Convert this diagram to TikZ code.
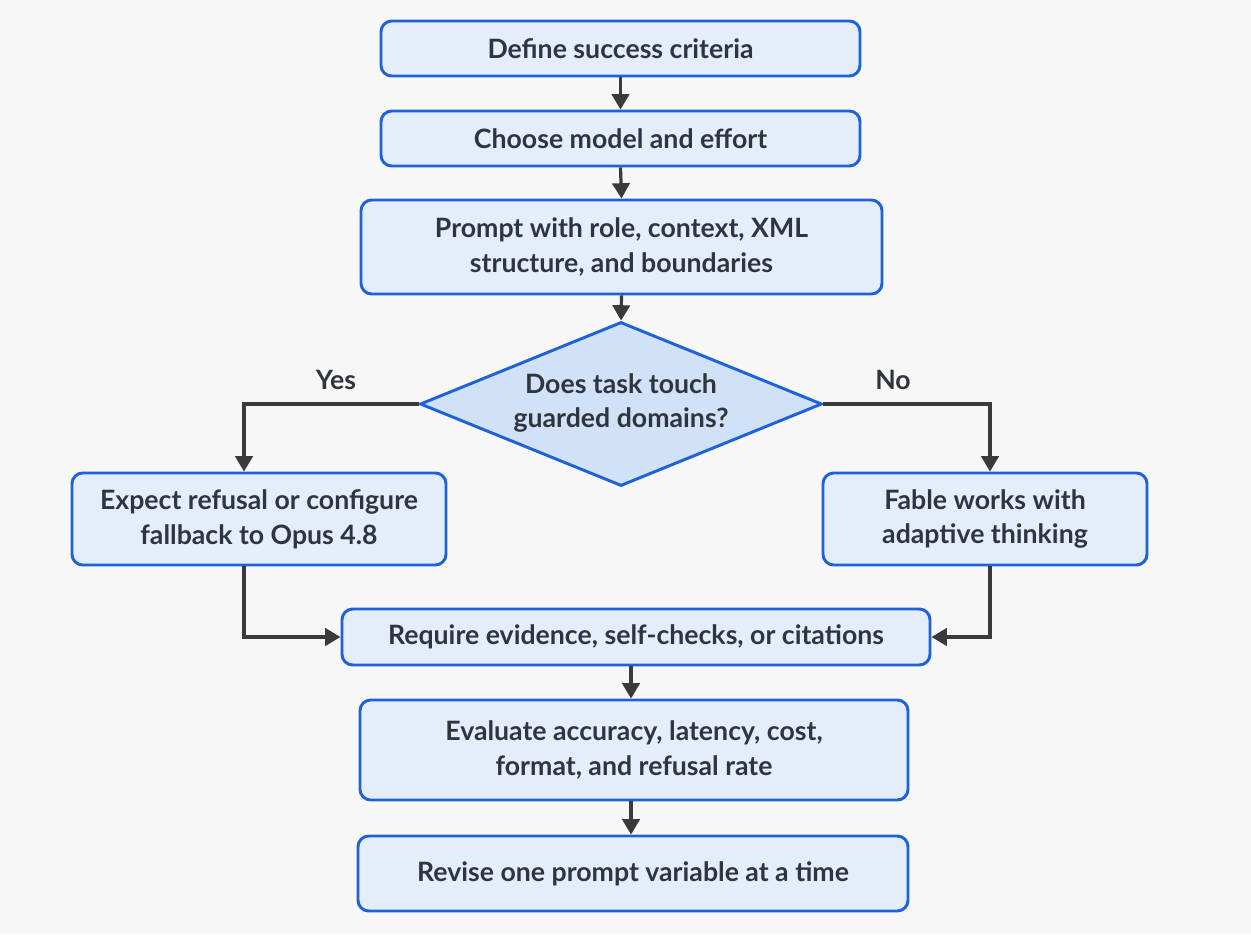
\documentclass[tikz,border=0pt]{standalone}
\usepackage{fontspec}
\setmainfont{Lato}
\usetikzlibrary{shapes.geometric,arrows.meta}
\definecolor{bg}{HTML}{F7F7F8}
\definecolor{boxfill}{HTML}{E4EEFB}
\definecolor{boxline}{HTML}{1F62D8}
\definecolor{txt}{HTML}{30353D}
\definecolor{arr}{HTML}{3A3A3A}
\definecolor{dfill}{HTML}{D0E1F8}
\tikzset{
  x=0.75pt, y=-0.75pt,
  tfont/.style={font=\fontsize{20}{26}\selectfont\bfseries, text=txt, align=center},
  proc/.style={draw=boxline, fill=boxfill, line width=2.2pt, rounded corners=8pt, inner sep=0pt, tfont},
  dec/.style={diamond, draw=boxline, fill=dfill, line width=2.2pt, inner sep=0pt},
  flow/.style={draw=arr, line width=2.4pt, -{Triangle[length=11.5pt,width=13pt]}},
  lbl/.style={tfont}
}
\begin{document}
\begin{tikzpicture}
\fill[bg] (0,0) rectangle (1251,934);
\useasboundingbox (0,0) rectangle (1251,934);
\node[proc, minimum width=479*0.75pt, minimum height=55*0.75pt] (define) at (620.5,48.5) {Define success criteria};
\node[proc, minimum width=479*0.75pt, minimum height=55*0.75pt] (choose) at (620.5,138.5) {Choose model and effort};
\node[proc, minimum width=521*0.75pt, minimum height=94*0.75pt] (prompt) at (621.5,247) {Prompt with role, context, XML\\structure, and boundaries};
\node[dec, minimum width=402*0.75pt, minimum height=164*0.75pt] (dec) at (621,404) {};
\node[tfont] (dect) at (621,403) {Does task touch\\guarded domains?};
\node[proc, minimum width=374*0.75pt, minimum height=92*0.75pt] (expect) at (259,519) {Expect refusal or configure\\fallback to Opus 4.8};
\node[proc, minimum width=324*0.75pt, minimum height=92*0.75pt] (fable) at (985,519) {Fable works with\\adaptive thinking};
\node[proc, minimum width=588*0.75pt, minimum height=56*0.75pt] (require) at (636,637) {Require evidence, self-checks, or citations};
\node[proc, minimum width=548*0.75pt, minimum height=100*0.75pt] (eval) at (634,750) {Evaluate accuracy, latency, cost,\\format, and refusal rate};
\node[proc, minimum width=550*0.75pt, minimum height=75*0.75pt] (revise) at (633,873.5) {Revise one prompt variable at a time};
\draw[flow] (define.south) -- (choose.north);
\draw[flow] (choose.south) -- (prompt.north);
\draw[flow] (prompt.south) -- (dec.north);
\draw[flow] (dec.west) -| (expect.north -| 244,0);
\draw[flow] (dec.east) -| (fable.north -| 990,0);
\node[lbl] (yes) at (336,380) {Yes};
\node[lbl] (no) at (893,380) {No};
\draw[flow] (expect.south -| 244,0) |- (require.west);
\draw[flow] (fable.south -| 990,0) |- (require.east);
\draw[flow] (require.south -| 631,0) -- (eval.north -| 631,0);
\draw[flow] (eval.south -| 631,0) -- (revise.north -| 631,0);
\end{tikzpicture}
\end{document}
